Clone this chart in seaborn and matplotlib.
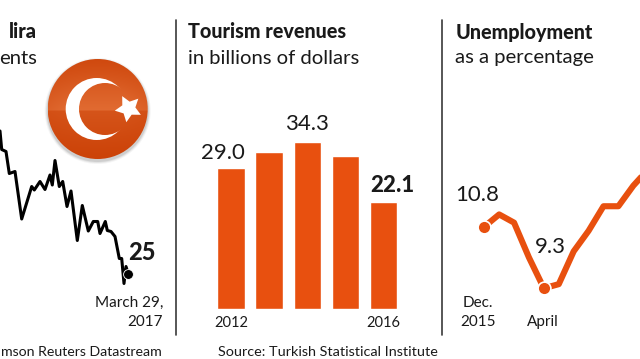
#Turkey charts: lira, tourism revenues, unemployment
import numpy as np
import matplotlib
matplotlib.use("Agg")
import matplotlib.pyplot as plt
from matplotlib.patches import Circle
import seaborn as sns

#Lira in U.S. cents
lira_weeks = [0, 1.7, 6, 9.3, 15, 21.7, 31.7, 34.3, 40, 45, 50, 52.3, 55, 59.3, 62.7, 67,
              71, 77.3, 82.3, 88.3, 93.3, 97.7, 100, 105.3, 107.3, 111, 115, 119.3, 121.7, 124, 126, 128.3]
lira_cents = [53.6, 49.9, 49.5, 45.1, 45.5, 36.0, 42.5, 41.8, 43.5, 41.9, 44.8, 42.8, 47.7, 42.5, 43.5, 38.5,
              41.6, 31.7, 38.7, 33.6, 35.5, 35.5, 33.1, 35.5, 33.7, 33.5, 32.5, 28.1, 28.1, 23.1, 26.5, 25.0]

#Tourism revenues in billions of dollars
tourism_years = ["2012", "2013", "2014", "2015", "2016"]
tourism_revenue = [29.0, 32.3, 34.3, 31.5, 22.1]

#Unemployment as a percentage, monthly from Dec. 2015
unemp_months = [0, 1, 2, 3, 4, 5, 6, 7, 8, 9, 10, 11]
unemp_rate = [10.8, 11.1, 10.9, 10.05, 9.3, 9.4, 10.2, 10.7, 11.3, 11.3, 11.8, 12.2]

W, H = 640, 359
ORANGE = "#E8500F"
INK = "#1a1a1a"

sns.set_theme(style="white")
plt.rcParams["font.family"] = ["Lato", "DejaVu Sans"]

fig = plt.figure(figsize=(W / 100, H / 100), dpi=100)


#Axes placed by pixel box
def px_axes(left, top, right, bottom):
    ax = fig.add_axes([left / W, 1 - bottom / H, (right - left) / W, (bottom - top) / H])
    ax.patch.set_alpha(0)
    sns.despine(ax=ax, left=True, bottom=True)
    ax.set_xlabel("")
    ax.set_ylabel("")
    return ax


#Lira line
ax1 = px_axes(0, 100, 175, 310)
sns.lineplot(x=lira_weeks, y=lira_cents, ax=ax1, color="black", linewidth=2.2, estimator=None, sort=False)
sns.scatterplot(x=lira_weeks[-1:], y=lira_cents[-1:], ax=ax1, color="black", s=50, edgecolor="white", linewidth=0.6, zorder=5)
ax1.set_xlim(0, 175)
ax1.set_ylim(17.8, 59.8)
ax1.set_xticks([])
ax1.set_yticks([])

#Tourism bars
ax2 = px_axes(180, 100, 436, 309.3)
sns.barplot(x=tourism_years, y=tourism_revenue, ax=ax2, color=ORANGE, saturation=1, width=0.72)
ax2.set_xlim(-1.335, 5.37)
ax2.set_ylim(0, 42.98)
ax2.set_yticks([])
ax2.set_xticks([0, 4], [tourism_years[0], tourism_years[-1]], fontsize=10.5, color=INK)
ax2.tick_params(axis="x", length=0, pad=4.5)
ax2.annotate("29.0", (0, tourism_revenue[0]), xytext=(-5.8, 6.5), textcoords="offset points", ha="center", fontsize=16, color=INK)
ax2.annotate("34.3", (2, tourism_revenue[2]), xytext=(0, 9), textcoords="offset points", ha="center", fontsize=16, color=INK)
ax2.annotate("22.1", (4, tourism_revenue[4]), xytext=(6.6, 7), textcoords="offset points", ha="center", fontsize=16, fontweight="black", color=INK)

#Unemployment line
ax3 = px_axes(444, 100, 640, 310)
sns.lineplot(x=unemp_months, y=unemp_rate, ax=ax3, color=ORANGE, linewidth=4.4, estimator=None, sort=False)
sns.scatterplot(x=[unemp_months[0], unemp_months[4]], y=[unemp_rate[0], unemp_rate[4]], ax=ax3, color=ORANGE, s=85,
                edgecolor="white", linewidth=1.2, zorder=5)
ax3.set_xlim(-2.7, 10.45)
ax3.set_ylim(8.77, 13.89)
ax3.set_xticks([])
ax3.set_yticks([])

#Overlay in pixels for the flag, dividers and text
ov = fig.add_axes([0, 0, 1, 1], zorder=10)
ov.set_xlim(0, W)
ov.set_ylim(H, 0)
ov.axis("off")
ov.patch.set_alpha(0)

ov.plot([175.7, 175.7], [20, 335], color="#3a3a3a", lw=1.2)
ov.plot([442, 442], [20, 335], color="#3a3a3a", lw=1.2)

#Flag badge
cx, cy, r = 97.7, 109, 50
for grow, alpha in [(3, 0.06), (2, 0.1), (1, 0.15)]:
    ov.add_patch(Circle((cx, cy + 2), r + grow, color="#555555", alpha=alpha, lw=0))
yy, xx = np.mgrid[-1:1:200j, -1:1:200j]
shade = np.where(yy < 0.03, 0.12 + 0.42 * (yy + 1), 0.25 - 0.25 * yy)
shade = shade * (1 - 0.6 * np.clip(np.hypot(xx, yy) - 0.6, 0, 1))
low, high = np.array([0.80, 0.26, 0.03]), np.array([0.95, 0.55, 0.33])
badge = low + (high - low) * shade[..., None]
extent = (cx - r, cx + r, cy + r, cy - r)
im = ov.imshow(badge, extent=extent, aspect="auto", zorder=2)
im.set_clip_path(Circle((cx, cy), r, transform=ov.transData))
ov.add_patch(Circle((96.7, 109), 31, color="white", lw=0, zorder=3))
im2 = ov.imshow(badge, extent=extent, aspect="auto", zorder=4)
im2.set_clip_path(Circle((105, 109), 26, transform=ov.transData))
ov.plot([128.3], [108], marker=(5, 1, 27), ms=20, color="white", mew=0, zorder=5)
ov.set_xlim(0, W)
ov.set_ylim(H, 0)


def label(x, y, s, size, ha="left", weight="normal"):
    ov.text(x, y, s, fontsize=size, ha=ha, va="center", fontweight=weight, color=INK, zorder=6)


label(37, 32, "lira", 14.5, ha="right", weight="black")
label(37, 58, "ents", 14.6, ha="right")
label(188, 32, "Tourism revenues", 14.2, weight="black")
label(188, 58, "in billions of dollars", 14.6)
label(456, 32, "Unemployment", 14.2, weight="black")
label(455, 58, "as a percentage", 14.6)

label(142, 253, "25", 17, ha="center", weight="black")
label(163, 303, "March 29,", 11, ha="right")
label(163, 322, "2017", 11, ha="right")
label(162, 352, "mson Reuters Datastream", 10.2, ha="right")
label(218, 352, "Source: Turkish Statistical Institute", 10.4)

label(477.5, 195, "10.8", 16, ha="center")
label(550, 247, "9.3", 16, ha="center")
label(478, 303, "Dec.", 11, ha="center")
label(478, 322, "2015", 11, ha="center")
label(543, 322, "April", 11, ha="center")

fig.savefig("out.png", dpi=100, facecolor="white")
